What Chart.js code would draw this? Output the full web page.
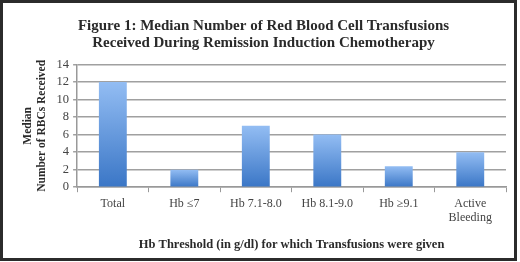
<!DOCTYPE html>
<html>
<head>
<meta charset="utf-8">
<script src="https://cdn.jsdelivr.net/npm/chart.js@4"></script>
<style>
  html, body { margin: 0; padding: 0; background: #fff; }
  #frame {
    position: absolute; left: 0; top: 0;
    width: 511px; height: 255px;
    border: 3px solid #2b2b2b;
    background: #fff;
  }
  #wrap { position: absolute; left: 0; top: 0; width: 511px; height: 255px; }
</style>
</head>
<body>
<div id="frame"><div id="wrap"><canvas id="chart"></canvas></div></div>
<script>
// chart data
const categories = ['Total', 'Hb \u22647', 'Hb 7.1-8.0', 'Hb 8.1-9.0', 'Hb \u22659.1', ['Active', 'Bleeding']];
const medianRBCs = [12, 2, 7, 6, 2.4, 4];
const yTicks = [0, 2, 4, 6, 8, 10, 12, 14];

const serif = '"Liberation Serif", "DejaVu Serif", serif';

function barFill(ctx) {
  const chart = ctx.chart;
  const y = chart.scales.y;
  if (!y || !chart.chartArea) return '#5b8fd8';
  const v = medianRBCs[ctx.dataIndex];
  const top = y.getPixelForValue(v);
  const bottom = y.getPixelForValue(0);
  const g = chart.ctx.createLinearGradient(0, top, 0, bottom);
  g.addColorStop(0, '#93bdf3');
  g.addColorStop(1, '#3a76c6');
  return g;
}

new Chart(document.getElementById('chart'), {
  type: 'bar',
  data: {
    labels: categories,
    datasets: [{
      data: medianRBCs,
      backgroundColor: barFill,
      borderWidth: 0,
      categoryPercentage: 0.78,
      barPercentage: 0.5
    }]
  },
  options: {
    responsive: true,
    maintainAspectRatio: false,
    animation: false,
    layout: { padding: { left: 18, right: 8, top: 6, bottom: 6 } },
    plugins: {
      legend: { display: false },
      tooltip: { enabled: false },
      title: {
        display: true,
        text: ['Figure 1: Median Number of Red Blood Cell Transfusions',
               'Received During Remission Induction Chemotherapy'],
        color: '#2a2a2a',
        font: { family: serif, size: 15, weight: 'bold', lineHeight: 1.15 },
        padding: { top: 8, bottom: 13 }
      }
    },
    scales: {
      x: {
        grid: { display: true, drawOnChartArea: false, offset: true, color: '#999', tickLength: 5 },
        border: { color: '#999', width: 1.5 },
        ticks: { color: '#444', font: { family: serif, size: 12 }, maxRotation: 0, autoSkip: false, padding: 4 },
        title: {
          display: true,
          text: 'Hb Threshold (in g/dl) for which Transfusions were given',
          color: '#2a2a2a',
          font: { family: serif, size: 12.5, weight: 'bold' },
          padding: { top: 8, bottom: 0 }
        }
      },
      y: {
        min: 0, max: 14,
        afterBuildTicks: axis => { axis.ticks = yTicks.map(v => ({ value: v })); },
        grid: { color: '#a0a0a0', lineWidth: 1.5, tickLength: 4 },
        border: { color: '#999', width: 1.5 },
        ticks: { color: '#444', font: { family: serif, size: 12.5 }, padding: 4, autoSkip: false },
        title: {
          display: true,
          text: ['Median', 'Number of RBCs Received'],
          color: '#2a2a2a',
          font: { family: serif, size: 11.5, weight: 'bold', lineHeight: 1.2 },
          padding: { top: 0, bottom: 4 }
        }
      }
    }
  }
});
</script>
</body>
</html>
